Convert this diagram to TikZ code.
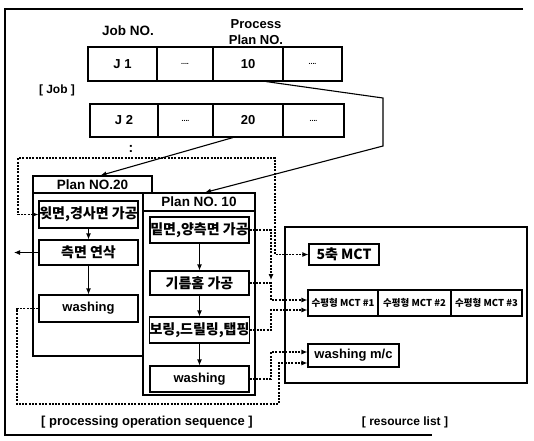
\documentclass[tikz,border=0pt]{standalone}
\usepackage{fontspec}
\setmainfont{Liberation Sans}
\newfontfamily\kr{Noto Sans CJK KR}
\usetikzlibrary{arrows.meta,calc}
\begin{document}
\begin{tikzpicture}[x=1pt,y=-1pt,
  cell/.style={draw,line width=1.1pt,inner sep=0pt,font=\fontsize{13}{13}\selectfont\bfseries},
  dotcell/.style={cell,font=\fontsize{7}{7}\selectfont\bfseries},
  opbox/.style={draw,line width=1.1pt,inner sep=0pt,minimum width=99pt,fill=white},
  kop/.style={opbox,font=\kr\fontsize{14}{14}\selectfont\bfseries},
  eop/.style={opbox,font=\fontsize{13}{13}\selectfont\bfseries},
  frm/.style={draw,line width=1.1pt,inner sep=0pt,fill=white},
  link/.style={line width=1.1pt,dash pattern=on 2pt off 1.3pt},
  sline/.style={line width=1.1pt},
  tip/.style={-{Latex[length=6pt,width=5pt]}},
  lbl/.style={inner sep=0pt}
]
\useasboundingbox (0,0) rectangle (534,440);

% outer frame
\draw[line width=1.1pt] (523,9) -- (5,9) -- (5,435) -- (432,435);

% titles
\node[lbl,font=\fontsize{13.5}{13.5}\selectfont\bfseries] (jobno) at (128,31) {Job NO.};
\node[lbl,align=center,font=\fontsize{13}{16}\selectfont\bfseries] (ppno) at (256,32) {Process\\Plan NO.};
\node[lbl,font=\fontsize{12}{12}\selectfont\bfseries] (joblbl) at (57,90) {[ Job ]};

% job table row 1
\node[cell,minimum width=69pt,minimum height=34pt] (j1) at (122.5,64) {J 1};
\node[dotcell,minimum width=56pt,minimum height=34pt] (d11) at (185,64) {....};
\node[cell,minimum width=70pt,minimum height=34pt] (p10) at (248,64) {10};
\node[dotcell,minimum width=59pt,minimum height=34pt] (d12) at (312.5,64) {....};
% row 2
\node[cell,minimum width=68pt,minimum height=33pt] (j2) at (124,120.5) {J 2};
\node[dotcell,minimum width=55pt,minimum height=33pt] (d21) at (185.5,120.5) {....};
\node[cell,minimum width=70pt,minimum height=33pt] (p20) at (248,120.5) {20};
\node[dotcell,minimum width=61pt,minimum height=33pt] (d22) at (313.5,120.5) {....};
\node[lbl,font=\fontsize{14}{14}\selectfont\bfseries] (vd) at (131,149) {:};

% plan 20
\node[frm,minimum width=119pt,minimum height=180pt] (pl20b) at (92.5,266) {};
\node[frm,minimum width=119pt,minimum height=17pt,font=\fontsize{13.5}{13.5}\selectfont\bfseries] (pl20h) at (92.5,184.5) {Plan NO.20};
% plan 10
\node[frm,minimum width=112pt,minimum height=202pt] (pl10b) at (199,294) {};
\node[frm,minimum width=112pt,minimum height=18pt,font=\fontsize{13.5}{13.5}\selectfont\bfseries] (pl10h) at (199,202) {Plan NO. 10};

% operations plan 20
\node[kop,minimum height=27pt] (a1) at (88.5,214.5) {윗면,경사면 가공};
\node[kop,minimum height=25pt] (a2) at (88.5,252.5) {측면 연삭};
\node[eop,minimum height=27pt] (a3) at (88.5,308.5) {washing};
% operations plan 10
\node[kop,minimum height=26pt] (b1) at (199.5,230) {밑면,양측면 가공};
\node[kop,minimum height=24pt] (b2) at (199.5,283) {기름홈 가공};
\node[kop,minimum height=26pt] (b3) at (199.5,330) {보링,드릴링,탭핑};
\node[eop,minimum height=26pt] (b4) at (199.5,379) {washing};

% resource list
\node[frm,fill=none,minimum width=242pt,minimum height=156pt] (res) at (406,305) {};
\node[frm,minimum width=70pt,minimum height=21pt,font=\kr\fontsize{14}{14}\selectfont\bfseries] (r1) at (344,254.5) {5축 MCT};
\node[frm,minimum width=70pt,minimum height=26pt,font=\kr\fontsize{9.5}{9.5}\selectfont\bfseries] (m1) at (343,303) {수평형 MCT \#1};
\node[frm,minimum width=73pt,minimum height=26pt,font=\kr\fontsize{9.5}{9.5}\selectfont\bfseries] (m2) at (414.5,303) {수평형 MCT \#2};
\node[frm,minimum width=71pt,minimum height=26pt,font=\kr\fontsize{9.5}{9.5}\selectfont\bfseries] (m3) at (486.5,303) {수평형 MCT \#3};
\node[frm,minimum width=91pt,minimum height=23pt,font=\fontsize{13}{13}\selectfont\bfseries] (r3) at (353.5,355.5) {washing m/c};

% captions
\node[lbl,font=\fontsize{13}{13}\selectfont\bfseries] (cap1) at (147,422) {[ processing operation sequence ]};
\node[lbl,font=\fontsize{12}{12}\selectfont\bfseries] (cap2) at (405,422) {[ resource list ]};

% job -> plan connectors
\coordinate (c1) at (383,98);
\coordinate (c2) at (383,146);
\draw[sline,tip] ([xshift=18pt]p10.south) -- (c1) -- (c2) -- ([xshift=6pt]pl10h.north);
\draw[sline,tip] ([xshift=-15pt]p20.south) -- ([xshift=8pt]pl20h.north);

% sequence arrows
\draw[sline,tip] (a1) -- (a2);
\draw[sline,tip] (a2) -- (a3);
\draw[sline,tip] (b1) -- (b2);
\draw[sline,tip] (b2) -- (b3);
\draw[sline,tip] (b3) -- (b4);
\coordinate (lo) at (14,252.5);
\draw[sline,tip] (a2.west) -- (lo);

% operation -> resource links
\coordinate (tl) at (18,158);
\coordinate (tr) at (275,158);
\draw[link,{Latex[length=6pt,width=5pt]}-{Latex[length=6pt,width=5pt]}] (a1.west) -| (tl) -- (tr) |- (r1.west);
\coordinate (bl) at (17,404);
\coordinate (br) at (279,404);
\draw[link,tip] (a3.west) -| (bl) -- (br) |- ([yshift=-7.5pt]r3.west);
\coordinate (jn) at (271,280);
\draw[link,tip] (b1.east) -| (jn);
\draw[link,tip] (b2.east) -- (b2.east -| jn) |- ([yshift=3pt]m1.west);
\draw[link,tip] (b3.east) -- (b3.east -| jn) |- ([yshift=-7pt]m1.west);
\draw[link,tip] (b4.east) -- (b4.east -| jn) |- ([yshift=3.5pt]r3.west);
\end{tikzpicture}
\end{document}
